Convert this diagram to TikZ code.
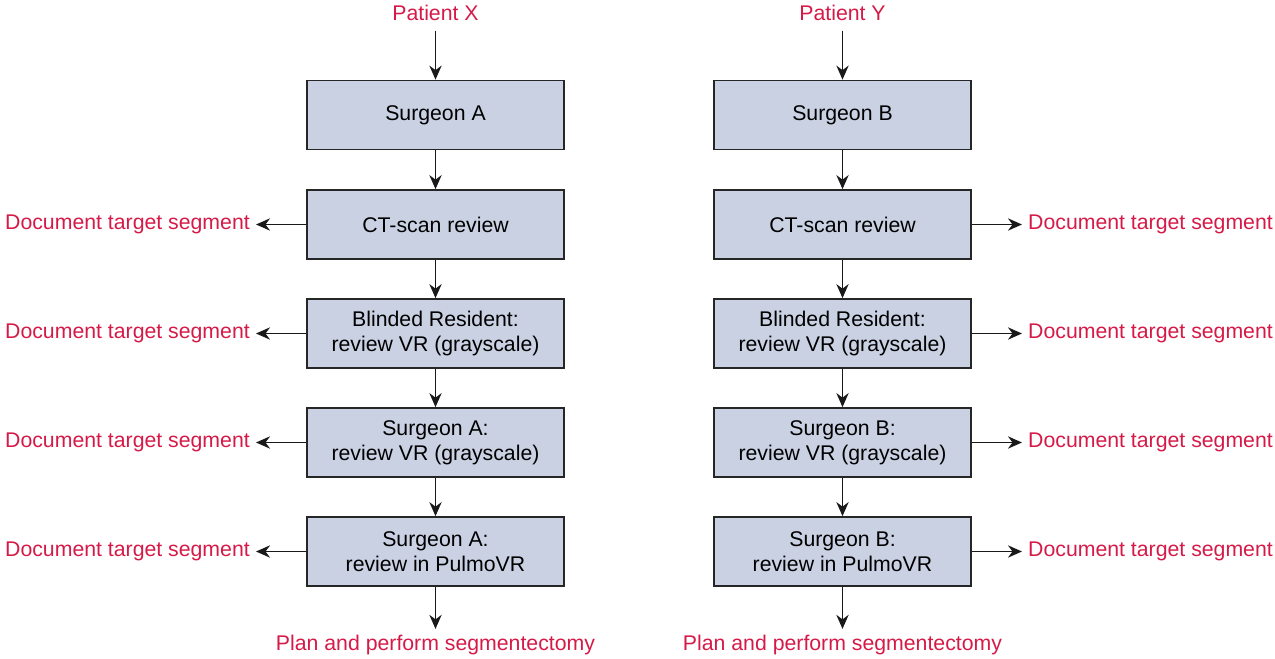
\documentclass[tikz,border=0pt]{standalone}
\usepackage{fontspec}
\setmainfont{Liberation Sans}
\usetikzlibrary{arrows.meta}
\definecolor{labelred}{RGB}{214,26,72}
\definecolor{boxfill}{RGB}{201,209,227}
\tikzset{
  stepbox/.style={draw=black!85,line width=1pt,fill=boxfill,minimum width=5.14cm,
    minimum height=1.38cm,align=center,font=\fontsize{12.1}{14.2}\selectfont},
  redtext/.style={text=labelred,font=\fontsize{12.1}{14.2}\selectfont},
  flow/.style={-{Stealth[length=8pt,width=7pt]},line width=0.9pt,black!90}
}
\begin{document}
\begin{tikzpicture}[x=0.02cm,y=-0.02cm]
        \useasboundingbox (0,0) rectangle (1275,659);
        % left column
        \node[redtext] (px) at (435.5,13) {Patient X};
        \node[stepbox] (a1) at (435.5,115) {Surgeon A};
        \node[stepbox] (a2) at (435.5,224.5) {CT-scan review};
        \node[stepbox] (a3) at (435.5,333.5) {Blinded Resident:\\review VR (grayscale)};
        \node[stepbox] (a4) at (435.5,442.5) {Surgeon A:\\review VR (grayscale)};
        \node[stepbox] (a5) at (435.5,551.5) {Surgeon A:\\review in PulmoVR};
        \node[redtext] (pa) at (435.5,645) {Plan and perform segmentectomy};
        \node[redtext,anchor=east] (da2) at (256,224.5) {Document target segment};
        \node[redtext,anchor=east] (da3) at (256,333.5) {Document target segment};
        \node[redtext,anchor=east] (da4) at (256,442.5) {Document target segment};
        \node[redtext,anchor=east] (da5) at (256,551.5) {Document target segment};
        % right column
        \node[redtext] (py) at (842.5,13) {Patient Y};
        \node[stepbox] (b1) at (842.5,115) {Surgeon B};
        \node[stepbox] (b2) at (842.5,224.5) {CT-scan review};
        \node[stepbox] (b3) at (842.5,333.5) {Blinded Resident:\\review VR (grayscale)};
        \node[stepbox] (b4) at (842.5,442.5) {Surgeon B:\\review VR (grayscale)};
        \node[stepbox] (b5) at (842.5,551.5) {Surgeon B:\\review in PulmoVR};
        \node[redtext] (pb) at (842.5,645) {Plan and perform segmentectomy};
        \node[redtext,anchor=west] (db2) at (1022,224.5) {Document target segment};
        \node[redtext,anchor=west] (db3) at (1022,333.5) {Document target segment};
        \node[redtext,anchor=west] (db4) at (1022,442.5) {Document target segment};
        \node[redtext,anchor=west] (db5) at (1022,551.5) {Document target segment};
        % arrows
        \draw[flow,shorten <=2pt] (px) -- (a1);
        \draw[flow,shorten <=2pt] (py) -- (b1);
        \foreach \i/\j in {1/2,2/3,3/4,4/5} {
            \draw[flow] (a\i) -- (a\j);
            \draw[flow] (b\i) -- (b\j);
        }
        \draw[flow] (a5) -- (pa);
        \draw[flow] (b5) -- (pb);
        \foreach \i in {2,...,5} {
            \draw[flow] (a\i) -- (da\i);
            \draw[flow] (b\i) -- (db\i);
        }
    \end{tikzpicture}
\end{document}
